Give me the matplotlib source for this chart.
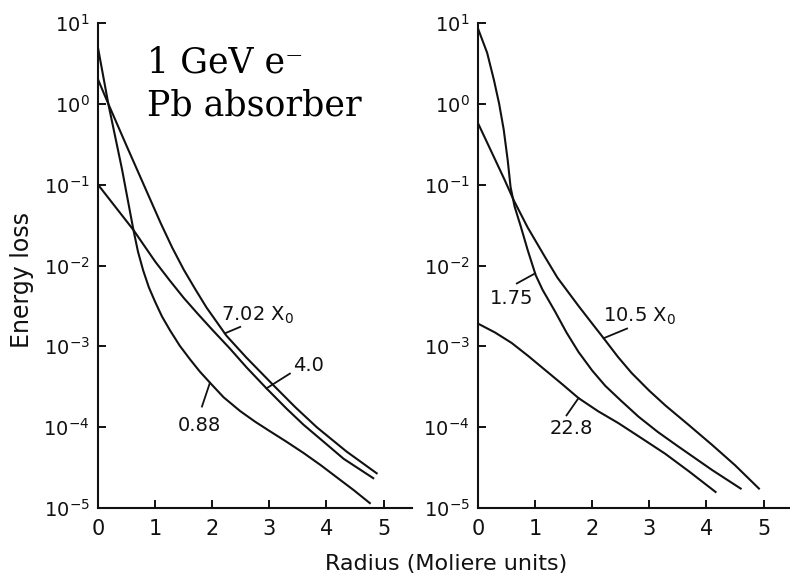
import numpy as np
import matplotlib
matplotlib.use("Agg")
import matplotlib.pyplot as plt
from matplotlib.ticker import FixedLocator, NullLocator

# lateral energy-loss profiles, left panel (depths 0.88, 4.0, 7.02 X0)
r_088 = [0, 0.18, 0.42, 0.62, 0.70, 0.79, 0.89, 1.0, 1.12, 1.26, 1.43, 1.61, 1.78, 1.96,
         2.2, 2.49, 2.75, 3.01, 3.30, 3.60, 3.9, 4.18, 4.48, 4.76]
e_088 = [4.9, 1.0, 0.155, 0.0275, 0.0148, 8.71e-3, 5.37e-3, 3.55e-3, 2.34e-3, 1.58e-3,
         1.02e-3, 6.92e-4, 4.90e-4, 3.55e-4, 2.34e-4, 1.58e-4, 1.17e-4, 8.91e-5, 6.61e-5,
         4.79e-5, 3.39e-5, 2.40e-5, 1.66e-5, 1.15e-5]
r_40 = [0, 0.62, 1.0, 1.25, 1.5, 1.75, 2.02, 2.3, 2.6, 2.95, 3.3, 3.6, 3.95, 4.3, 4.82]
e_40 = [0.1, 0.0275, 0.0112, 6.61e-3, 3.98e-3, 2.51e-3, 1.55e-3, 9.55e-4, 5.50e-4,
        3.02e-4, 1.70e-4, 1.07e-4, 6.61e-5, 4.07e-5, 2.34e-5]
r_702 = [0, 0.18, 0.5, 0.8, 1.1, 1.3, 1.5, 1.7, 1.9, 2.25, 2.6, 3.07, 3.45, 3.83, 4.35, 4.88]
e_702 = [2.0, 1.0, 0.302, 0.1, 0.0331, 0.0166, 8.91e-3, 5.13e-3, 3.02e-3, 1.35e-3,
         7.24e-4, 3.31e-4, 1.78e-4, 1.0e-4, 5.01e-5, 2.69e-5]

# right panel (depths 1.75, 10.5, 22.8 X0)
r_175 = [0, 0.16, 0.28, 0.37, 0.45, 0.52, 0.57, 0.64, 0.75, 0.87, 1.01, 1.13, 1.35, 1.55,
         1.76, 2.0, 2.23, 2.5, 2.81, 3.15, 3.51, 4.10, 4.60]
e_175 = [8.51, 4.27, 1.95, 1.0, 0.479, 0.2, 0.0933, 0.0537, 0.0302, 0.0155, 7.59e-3,
         5.01e-3, 2.69e-3, 1.48e-3, 8.51e-4, 5.01e-4, 3.24e-4, 2.14e-4, 1.35e-4, 8.71e-5,
         5.75e-5, 2.95e-5, 1.74e-5]
r_105 = [0, 0.22, 0.46, 0.63, 0.87, 1.16, 1.39, 1.58, 1.76, 2.0, 2.20, 2.45, 2.69, 3.0,
         3.28, 3.7, 4.10, 4.5, 4.92]
e_105 = [0.575, 0.269, 0.117, 0.0631, 0.0295, 0.0132, 7.08e-3, 4.68e-3, 3.16e-3, 1.91e-3,
         1.26e-3, 7.41e-4, 4.68e-4, 2.82e-4, 1.86e-4, 1.05e-4, 6.03e-5, 3.39e-5, 1.74e-5]
r_228 = [0, 0.3, 0.59, 0.88, 1.17, 1.46, 1.76, 2.1, 2.46, 2.85, 3.28, 3.7, 4.16]
e_228 = [1.91e-3, 1.48e-3, 1.10e-3, 7.59e-4, 5.13e-4, 3.47e-4, 2.29e-4, 1.58e-4, 1.12e-4,
         7.41e-5, 4.68e-5, 2.82e-5, 1.58e-5]

x_ticks = [0, 1, 2, 3, 4, 5]
y_ticks = [1e-5, 1e-4, 1e-3, 1e-2, 1e-1, 1e0, 1e1]

# label text, label centre, leader start, radius where the leader meets the curve
left_labels = [
    (r"7.02 X$_0$", (2.80, 2.45e-3), (2.49, 1.74e-3), 2.22, r_702, e_702),
    ("4.0", (3.68, 5.75e-4), (3.36, 4.6e-4), 2.95, r_40, e_40),
    ("0.88", (1.77, 1.05e-4), (1.82, 1.8e-4), 1.96, r_088, e_088),
]
right_labels = [
    ("1.75", (0.59, 3.9e-3), (0.68, 6.0e-3), 1.0, r_175, e_175),
    (r"10.5 X$_0$", (2.82, 2.34e-3), (2.61, 1.66e-3), 2.20, r_105, e_105),
    ("22.8", (1.63, 9.5e-5), (1.55, 1.4e-4), 1.76, r_228, e_228),
]

ink = "#111111"
fig = plt.figure(figsize=(7.9, 5.78), dpi=100)
ax1 = fig.add_axes([0.1241, 0.1211, 0.3975, 0.8391])
ax2 = fig.add_axes([0.6051, 0.1211, 0.3975, 0.8391])


def style(ax):
    ax.set_yscale("log")
    ax.set_xlim(0, 5.5)
    ax.set_ylim(1e-5, 1e1)
    for s in ("top", "right"):
        ax.spines[s].set_visible(False)
    for s in ("left", "bottom"):
        ax.spines[s].set_linewidth(1.5)
        ax.spines[s].set_color(ink)
    ax.xaxis.set_major_locator(FixedLocator(x_ticks))
    ax.yaxis.set_major_locator(FixedLocator(y_ticks))
    ax.yaxis.set_minor_locator(NullLocator())
    ax.tick_params(direction="in", length=6, width=1.4, color=ink)
    ax.tick_params(axis="x", labelsize=15, pad=8, labelcolor=ink)
    ax.tick_params(axis="y", labelsize=14, pad=6, labelcolor=ink)
    ax.patch.set_visible(False)


def curve_at(r, xs, ys):
    return 10 ** np.interp(r, xs, np.log10(ys))


def add_labels(ax, labels):
    for text, centre, start, r_hit, xs, ys in labels:
        ax.text(centre[0], centre[1], text, fontsize=14, color=ink,
                ha="center", va="center")
        ax.plot([start[0], r_hit], [start[1], curve_at(r_hit, xs, ys)],
                color=ink, lw=1.3)


for ax in (ax1, ax2):
    style(ax)

for xs, ys in ((r_088, e_088), (r_40, e_40), (r_702, e_702)):
    ax1.plot(xs, ys, color=ink, lw=1.5, solid_joinstyle="round")
for xs, ys in ((r_175, e_175), (r_105, e_105), (r_228, e_228)):
    ax2.plot(xs, ys, color=ink, lw=1.5, solid_joinstyle="round")

add_labels(ax1, left_labels)
add_labels(ax2, right_labels)

fig.text(0.5646, 0.024, "Radius (Moliere units)", fontsize=16, color=ink,
         ha="center", va="center")
fig.text(0.0278, 0.5156, "Energy loss", fontsize=17, color=ink,
         rotation=90, ha="center", va="center")

fig.text(0.186, 0.8754, "1 GeV e\u207b", fontsize=25, family="DejaVu Serif",
         color="black", ha="left", va="baseline")
fig.text(0.186, 0.800, "Pb absorber", fontsize=25, family="DejaVu Serif",
         color="black", ha="left", va="baseline")

fig.savefig("out.png", dpi=100)
